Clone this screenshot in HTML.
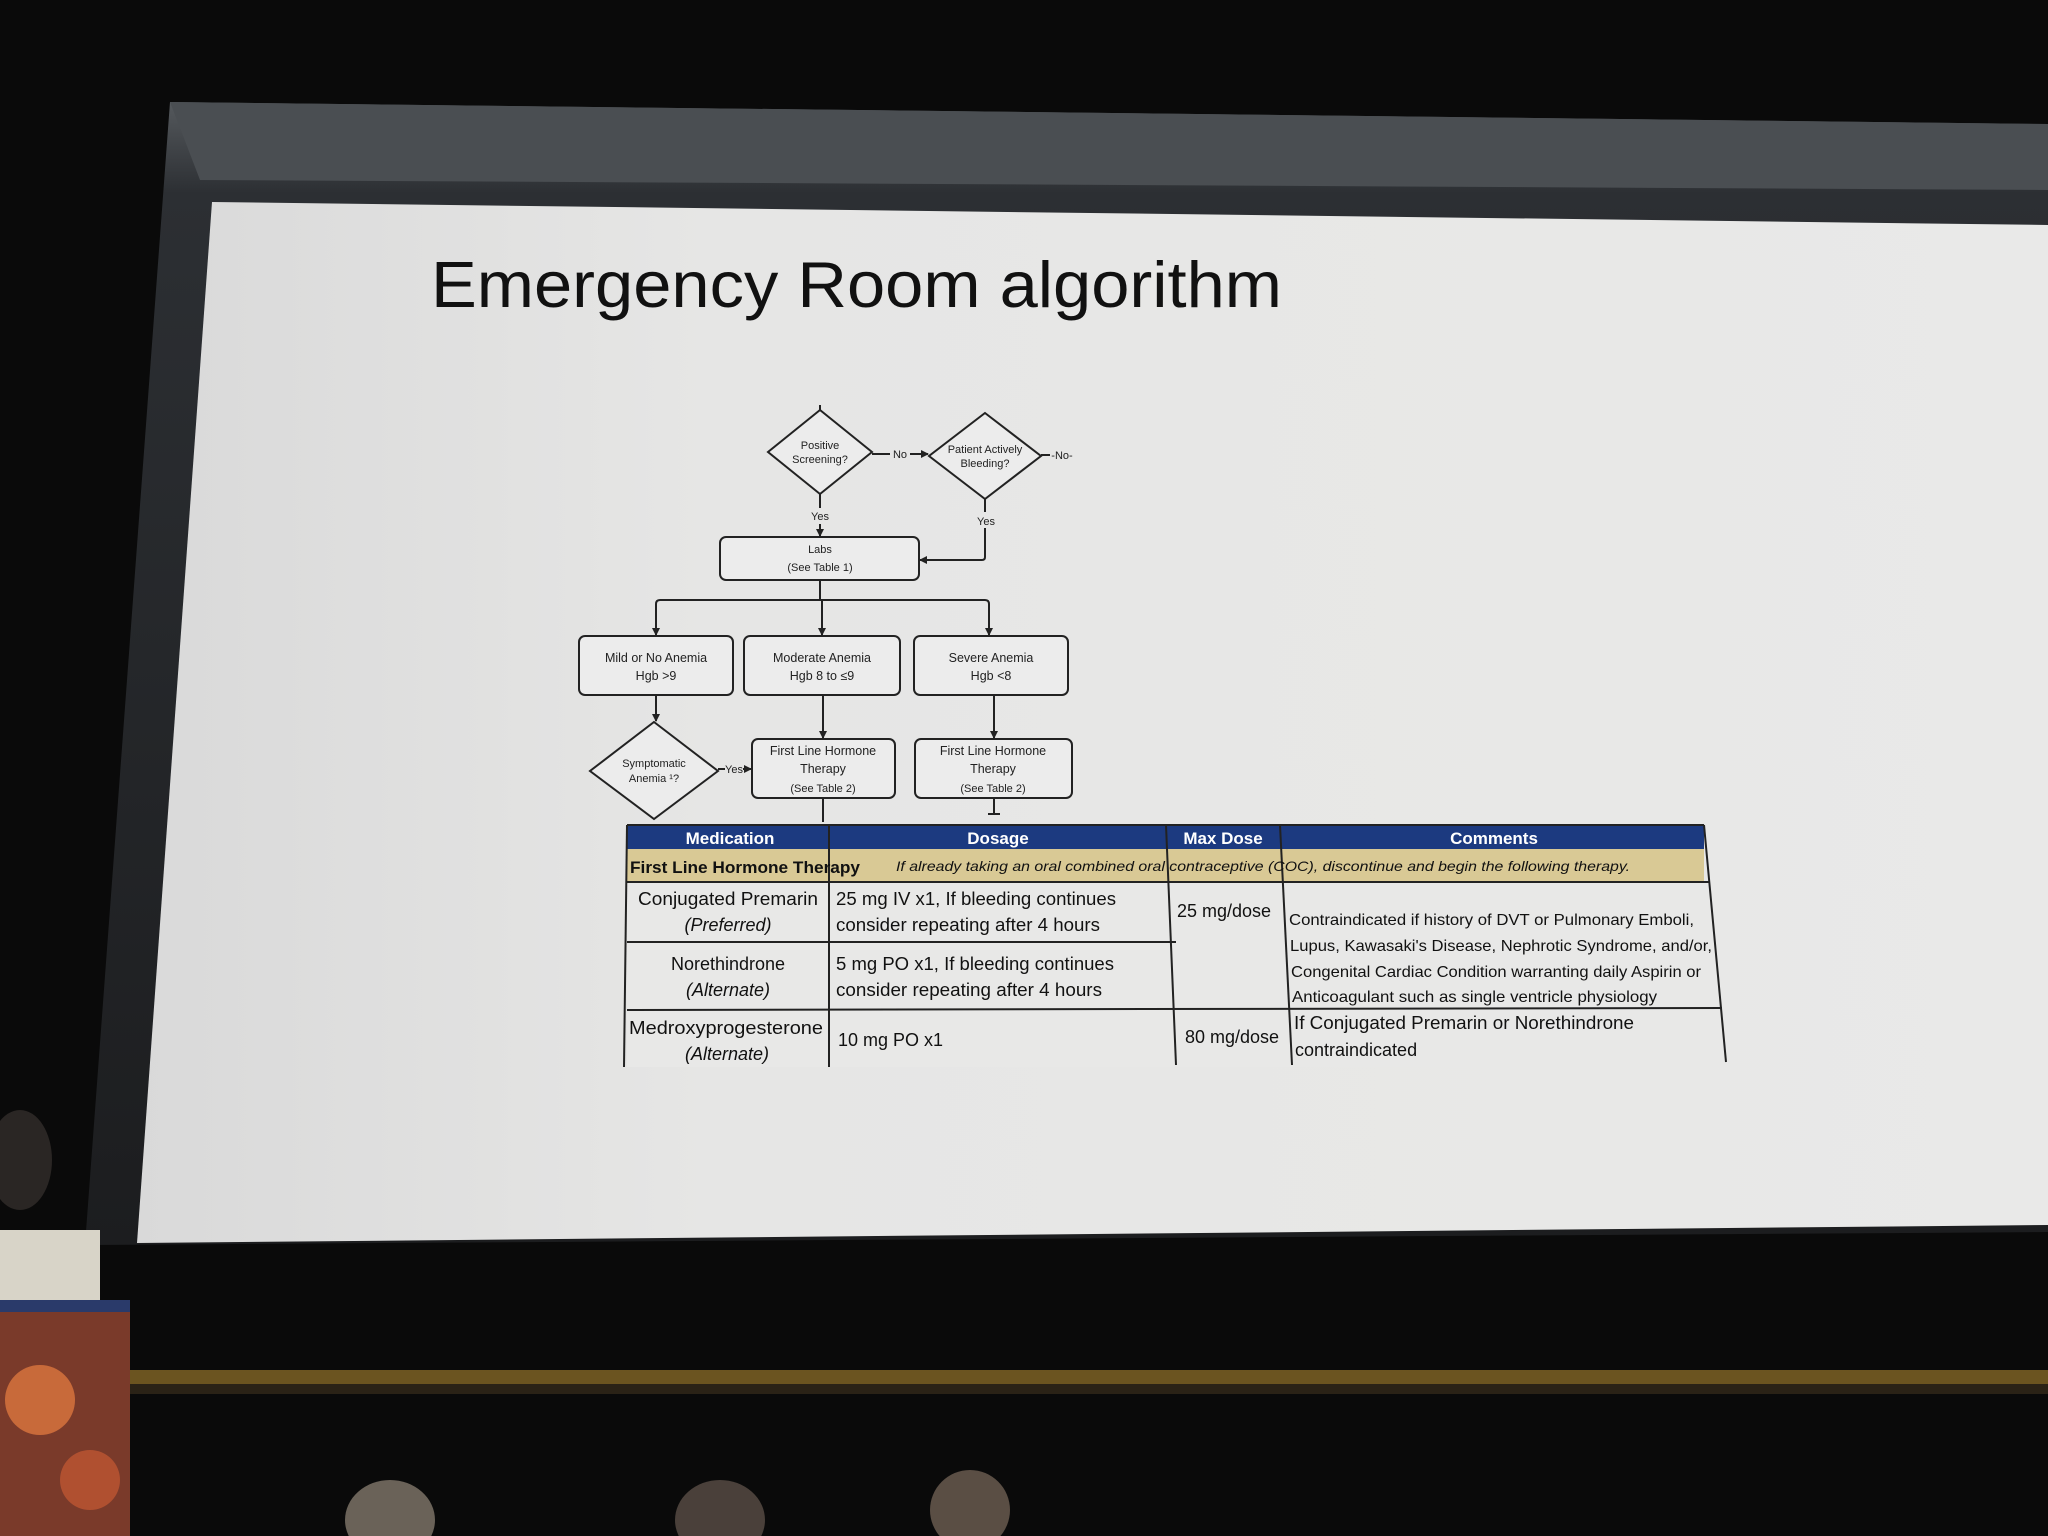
<!DOCTYPE html>
<html><head><meta charset="utf-8"><style>
html,body{margin:0;padding:0;background:#0a0a0a;}
svg{display:block;}
text{font-family:"Liberation Sans",sans-serif;}
</style></head><body>
<svg width="2048" height="1536" viewBox="0 0 2048 1536" xmlns="http://www.w3.org/2000/svg">
<defs>
<linearGradient id="bez" x1="0" y1="0" x2="0" y2="1">
<stop offset="0" stop-color="#55595d"/><stop offset="0.08" stop-color="#2c2f33"/><stop offset="1" stop-color="#1c1d1f"/>
</linearGradient>
<linearGradient id="scr" x1="0" y1="0" x2="1" y2="0">
<stop offset="0" stop-color="#d9d9d9"/><stop offset="0.3" stop-color="#e6e6e5"/><stop offset="1" stop-color="#e9e9e8"/>
</linearGradient>
<marker id="ah" markerWidth="8" markerHeight="8" refX="7" refY="4" orient="auto" markerUnits="userSpaceOnUse">
<path d="M0,0 L8,4 L0,8 z" fill="#222"/>
</marker>
</defs>
<rect width="2048" height="1536" fill="#0a0a0a"/>
<polygon points="170,102 2048,124 2048,1232 85,1245" fill="url(#bez)"/>
<polygon points="170,102 2048,124 2048,190 200,180" fill="#4a4e52"/>
<polygon points="212,202 2048,225 2048,1225 137,1243" fill="url(#scr)"/>
<rect x="130" y="1370" width="1918" height="14" fill="#6b5420"/>
<rect x="130" y="1384" width="1918" height="10" fill="#2a2216"/>
<rect x="0" y="1300" width="130" height="236" fill="#7a3a2a"/>
<circle cx="40" cy="1400" r="35" fill="#c86a3a"/><circle cx="90" cy="1480" r="30" fill="#b05030"/>
<rect x="0" y="1300" width="130" height="12" fill="#2a3a6a"/>
<ellipse cx="20" cy="1160" rx="32" ry="50" fill="#2a2624"/>
<rect x="0" y="1230" width="100" height="70" fill="#d8d4c8"/>
<ellipse cx="390" cy="1520" rx="45" ry="40" fill="#6a6258"/>
<ellipse cx="720" cy="1520" rx="45" ry="40" fill="#4a403a"/>
<ellipse cx="970" cy="1510" rx="40" ry="40" fill="#5a4e44"/>

<text x="431" y="307" font-size="65" fill="#111" textLength="851" lengthAdjust="spacingAndGlyphs">Emergency Room algorithm</text>

<g stroke="#222" stroke-width="2" fill="#ececec">
<polygon points="820,410 872,452 820,494 768,452"/>
<polygon points="985,413 1041,456 985,499 929,456"/>
<rect x="720" y="537" width="199" height="43" rx="6"/>
<rect x="579" y="636" width="154" height="59" rx="6"/>
<rect x="744" y="636" width="156" height="59" rx="6"/>
<rect x="914" y="636" width="154" height="59" rx="6"/>
<polygon points="654,722 718,771 654,819 590,771"/>
<rect x="752" y="739" width="143" height="59" rx="6"/>
<rect x="915" y="739" width="157" height="59" rx="6"/>
</g>
<g stroke="#222" stroke-width="2" fill="none">
<line x1="820" y1="405" x2="820" y2="410"/>
<line x1="872" y1="454" x2="890" y2="454"/>
<line x1="910" y1="454" x2="928" y2="454" marker-end="url(#ah)"/>
<line x1="1041" y1="455" x2="1050" y2="455"/>
<line x1="820" y1="494" x2="820" y2="508"/>
<line x1="820" y1="524" x2="820" y2="536" marker-end="url(#ah)"/>
<line x1="985" y1="499" x2="985" y2="512"/>
<path d="M985,528 L985,557 Q985,560 982,560 L920,560" marker-end="url(#ah)"/>
<line x1="820" y1="580" x2="820" y2="600"/>
<path d="M656,635 L656,604 Q656,600 660,600 L985,600 Q989,600 989,604 L989,635"/>
<line x1="656" y1="629" x2="656" y2="635" marker-end="url(#ah)"/>
<line x1="989" y1="629" x2="989" y2="635" marker-end="url(#ah)"/>
<line x1="822" y1="600" x2="822" y2="635" marker-end="url(#ah)"/>
<line x1="656" y1="695" x2="656" y2="721" marker-end="url(#ah)"/>
<line x1="823" y1="695" x2="823" y2="738" marker-end="url(#ah)"/>
<line x1="994" y1="695" x2="994" y2="738" marker-end="url(#ah)"/>
<line x1="718" y1="769" x2="725" y2="769"/>
<line x1="743" y1="769" x2="751" y2="769" marker-end="url(#ah)"/>
<line x1="823" y1="798" x2="823" y2="822"/>
<line x1="994" y1="798" x2="994" y2="814"/>
<line x1="988" y1="814" x2="1000" y2="814"/>
</g>
<g font-size="11" fill="#222" text-anchor="middle">
<text x="820" y="449">Positive</text><text x="820" y="463">Screening?</text>
<text x="985" y="453">Patient Actively</text><text x="985" y="467">Bleeding?</text>
<text x="900" y="458">No</text>
<text x="1062" y="459">-No-</text>
<text x="820" y="520">Yes</text>
<text x="986" y="525">Yes</text>
<text x="820" y="553">Labs</text><text x="820" y="571">(See Table 1)</text>
<text x="656" y="662" font-size="12.5">Mild or No Anemia</text><text x="656" y="680" font-size="12.5">Hgb &gt;9</text>
<text x="822" y="662" font-size="12.5">Moderate Anemia</text><text x="822" y="680" font-size="12.5">Hgb 8 to ≤9</text>
<text x="991" y="662" font-size="12.5">Severe Anemia</text><text x="991" y="680" font-size="12.5">Hgb &lt;8</text>
<text x="654" y="767">Symptomatic</text><text x="654" y="782">Anemia ¹?</text>
<text x="734" y="773">Yes</text>
<text x="823" y="755" font-size="12.5">First Line Hormone</text><text x="823" y="773" font-size="12.5">Therapy</text><text x="823" y="792">(See Table 2)</text>
<text x="993" y="755" font-size="12.5">First Line Hormone</text><text x="993" y="773" font-size="12.5">Therapy</text><text x="993" y="792">(See Table 2)</text>
</g>

<rect x="627" y="825" width="1077" height="24" fill="#1c3a80"/>
<rect x="627" y="849" width="1077" height="33" fill="#d9c995"/>
<rect x="627" y="882" width="1090" height="185" fill="#e8e8e7"/>
<g stroke="#222" stroke-width="2" fill="none">
<line x1="627" y1="825" x2="1704" y2="825"/>
<line x1="627" y1="825" x2="624" y2="1067"/>
<line x1="1704" y1="825" x2="1726" y2="1062"/>
<line x1="627" y1="882" x2="1710" y2="882"/>
<line x1="829" y1="825" x2="829" y2="1067"/>
<line x1="1166" y1="825" x2="1176" y2="1065"/>
<line x1="1280" y1="825" x2="1292" y2="1065"/>
<line x1="627" y1="942" x2="1176" y2="942"/>
<line x1="627" y1="1010" x2="1722" y2="1008"/>
</g>
<g font-size="17" font-weight="bold" fill="#fff" text-anchor="middle">
<text x="730" y="844">Medication</text>
<text x="998" y="844">Dosage</text>
<text x="1223" y="844">Max Dose</text>
<text x="1494" y="844">Comments</text>
</g>
<text x="630" y="873" font-size="17" font-weight="bold" fill="#111" textLength="230" lengthAdjust="spacingAndGlyphs">First Line Hormone Therapy</text>
<text x="896" y="871" font-size="14" font-style="italic" fill="#111" textLength="734" lengthAdjust="spacingAndGlyphs">If already taking an oral combined oral contraceptive (COC), discontinue and begin the following therapy.</text>
<g font-size="18" fill="#111">
<text x="728" y="905" text-anchor="middle" textLength="180" lengthAdjust="spacingAndGlyphs">Conjugated Premarin</text>
<text x="728" y="931" text-anchor="middle" font-style="italic">(Preferred)</text>
<text x="836" y="905" textLength="280" lengthAdjust="spacingAndGlyphs">25 mg IV x1, If bleeding continues</text>
<text x="836" y="931" textLength="264" lengthAdjust="spacingAndGlyphs">consider repeating after 4 hours</text>
<text x="1224" y="917" text-anchor="middle">25 mg/dose</text>
<text x="728" y="970" text-anchor="middle">Norethindrone</text>
<text x="728" y="996" text-anchor="middle" font-style="italic">(Alternate)</text>
<text x="836" y="970" textLength="278" lengthAdjust="spacingAndGlyphs">5 mg PO x1, If bleeding continues</text>
<text x="836" y="996" textLength="266" lengthAdjust="spacingAndGlyphs">consider repeating after 4 hours</text>
<text x="726" y="1034" text-anchor="middle" textLength="194" lengthAdjust="spacingAndGlyphs">Medroxyprogesterone</text>
<text x="727" y="1060" text-anchor="middle" font-style="italic">(Alternate)</text>
<text x="838" y="1046">10 mg PO x1</text>
<text x="1232" y="1043" text-anchor="middle">80 mg/dose</text>
</g>
<g font-size="16" fill="#111">
<text x="1289" y="925" textLength="405" lengthAdjust="spacingAndGlyphs">Contraindicated if history of DVT or Pulmonary Emboli,</text>
<text x="1290" y="951" textLength="422" lengthAdjust="spacingAndGlyphs">Lupus, Kawasaki's Disease, Nephrotic Syndrome,  and/or,</text>
<text x="1291" y="977" textLength="410" lengthAdjust="spacingAndGlyphs">Congenital Cardiac Condition warranting daily Aspirin or</text>
<text x="1292" y="1002" textLength="365" lengthAdjust="spacingAndGlyphs">Anticoagulant such as single ventricle physiology</text>
</g>
<g font-size="18" fill="#111">
<text x="1294" y="1029" textLength="340" lengthAdjust="spacingAndGlyphs">If Conjugated Premarin or Norethindrone</text>
<text x="1295" y="1056">contraindicated</text>
</g>
</svg>
</body></html>
